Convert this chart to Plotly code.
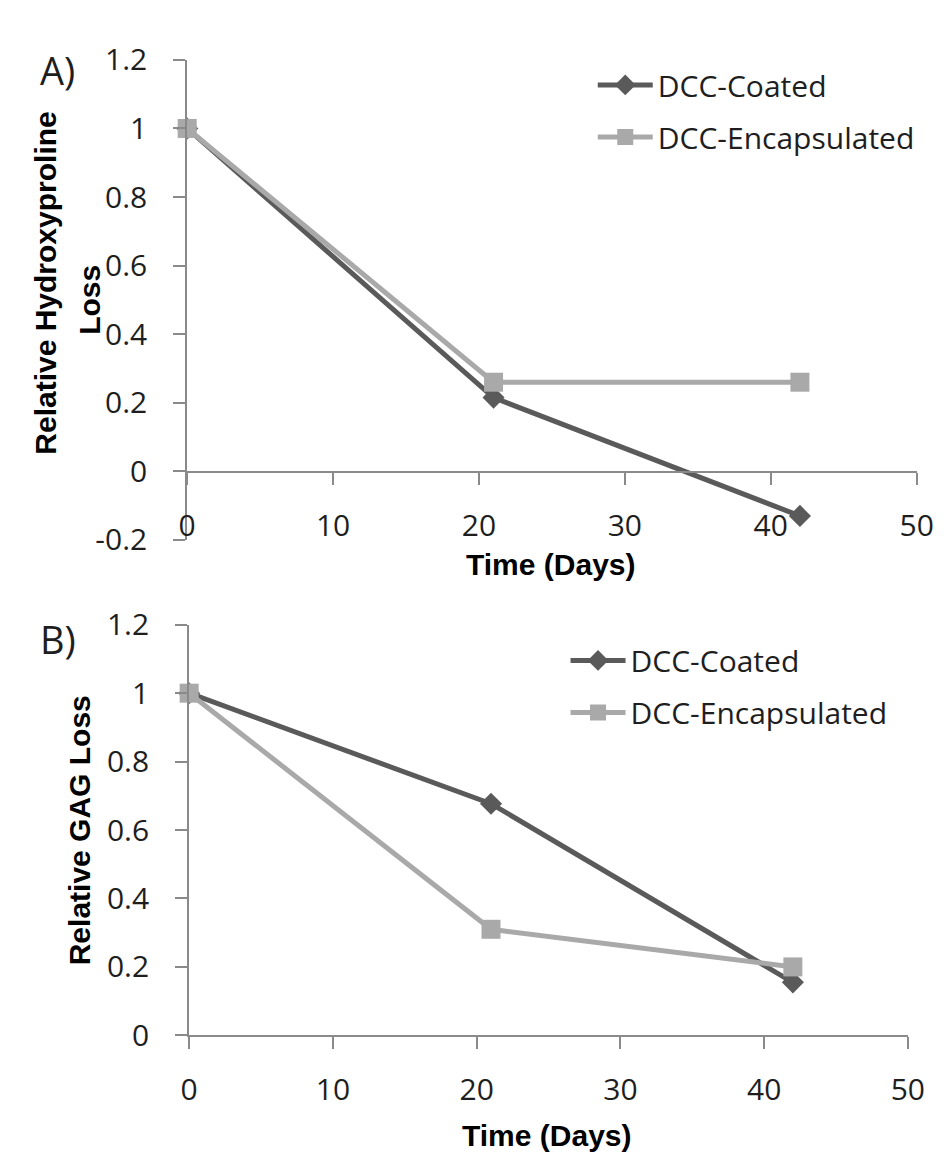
import plotly.graph_objects as go

# ---------------- data ----------------
days = [0, 21, 42]
hyp_coated = [1.0, 0.215, -0.13]
hyp_encap = [1.0, 0.26, 0.26]
gag_coated = [1.0, 0.677, 0.155]
gag_encap = [1.0, 0.31, 0.20]
series_names = ["DCC-Coated", "DCC-Encapsulated"]
x_ticks = [0, 10, 20, 30, 40, 50]
x_labels = ["0", "10", "20", "30", "40", "50"]
y_ticks_a = [-0.2, 0, 0.2, 0.4, 0.6, 0.8, 1.0, 1.2]
y_labels_a = ["-0.2", "0", "0.2", "0.4", "0.6", "0.8", "1", "1.2"]
y_ticks_b = [0, 0.2, 0.4, 0.6, 0.8, 1.0, 1.2]
y_labels_b = ["0", "0.2", "0.4", "0.6", "0.8", "1", "1.2"]
panel_labels = ["A)", "B)"]
y_title_a = ["Relative Hydroxyproline", "Loss"]
y_title_b = "Relative GAG Loss"
x_title = "Time (Days)"

# ---------------- style ----------------
W, H = 948, 1164
DARK = "#5a5a5a"
LIGHT = "#a9a9a9"
AXIS = "#8a8a8a"
TICKFONT = dict(family="Open Sans", size=30, color="#1e1e1e")
TITLEFONT = dict(family="Liberation Sans", size=30, color="#000000")


def fx(px):
    return px / W


def fy(py):
    return 1 - py / H


fig = go.Figure()

panels = [
    ("x", "y", hyp_coated, hyp_encap, "legend"),
    ("x2", "y2", gag_coated, gag_encap, "legend2"),
]
for xa, ya, coated, encap, leg in panels:
    fig.add_trace(go.Scatter(
        x=days, y=coated, xaxis=xa, yaxis=ya, name=series_names[0],
        mode="lines+markers", legend=leg, legendgroup="c" + leg,
        line=dict(color=DARK, width=5),
        marker=dict(symbol="diamond", size=17, color=DARK),
        cliponaxis=False,
    ))
    fig.add_trace(go.Scatter(
        x=days, y=encap, xaxis=xa, yaxis=ya, name=series_names[1],
        mode="lines+markers", legend=leg, legendgroup="e" + leg,
        line=dict(color=LIGHT, width=5),
        marker=dict(symbol="square", size=19, color=LIGHT),
        cliponaxis=False,
    ))

common_x = dict(range=[0, 50], tickvals=x_ticks, ticktext=x_labels,
                showgrid=False, zeroline=False, showline=True,
                linecolor=AXIS, linewidth=2, ticks="outside", ticklen=12,
                tickcolor=AXIS, tickwidth=2, tickfont=TICKFONT,
                ticklabelstandoff=15)
common_y = dict(showgrid=False, zeroline=False, showline=True,
                linecolor=AXIS, linewidth=2, ticks="outside", ticklen=12,
                tickcolor=AXIS, tickwidth=2, tickfont=TICKFONT,
                ticklabelstandoff=20)

fig.update_layout(
    width=W, height=H,
    margin=dict(l=0, r=0, t=0, b=0),
    paper_bgcolor="white", plot_bgcolor="white",
    xaxis=dict(domain=[fx(175), fx(925)], anchor="free", position=fy(459),
               **common_x),
    yaxis=dict(domain=[fy(529), fy(31)], anchor="x", range=[-0.2, 1.2],
               tickvals=y_ticks_a, ticktext=y_labels_a, **common_y),
    xaxis2=dict(domain=[fx(177), fx(916)], anchor="y2", **common_x),
    yaxis2=dict(domain=[fy(1043), fy(617)], anchor="x2", range=[0, 1.2],
                tickvals=y_ticks_b, ticktext=y_labels_b, **common_y),
    legend=dict(x=fx(592), y=fy(30), xanchor="left", yanchor="top",
                font=TICKFONT, bgcolor="rgba(0,0,0,0)", tracegroupgap=10,
                itemwidth=55),
    legend2=dict(x=fx(564), y=fy(627), xanchor="left", yanchor="top",
                 font=TICKFONT, bgcolor="rgba(0,0,0,0)", tracegroupgap=10,
                 itemwidth=55),
)

ann = []
ann.append(dict(text=panel_labels[0], x=fx(42), y=fy(42)))
ann.append(dict(text=panel_labels[1], x=fx(42), y=fy(632)))
for a in ann:
    a.update(xref="paper", yref="paper", showarrow=False,
             xanchor="center", yanchor="middle",
             font=dict(family="Open Sans", size=38, color="#1e1e1e"))

title_ann = [
    dict(text="<b>%s</b>" % y_title_a[0], x=fx(29), y=fy(263), textangle=-90),
    dict(text="<b>%s</b>" % y_title_a[1], x=fx(75), y=fy(280), textangle=-90),
    dict(text="<b>%s</b>" % y_title_b, x=fx(64), y=fy(830), textangle=-90),
    dict(text="<b>%s</b>" % x_title, x=fx(549), y=fy(554)),
    dict(text="<b>%s</b>" % x_title, x=fx(545), y=fy(1147)),
]
for a in title_ann:
    a.update(xref="paper", yref="paper", showarrow=False,
             xanchor="center", yanchor="middle", font=TITLEFONT)
fig.update_layout(annotations=ann + title_ann)

fig.write_html("out.html")
